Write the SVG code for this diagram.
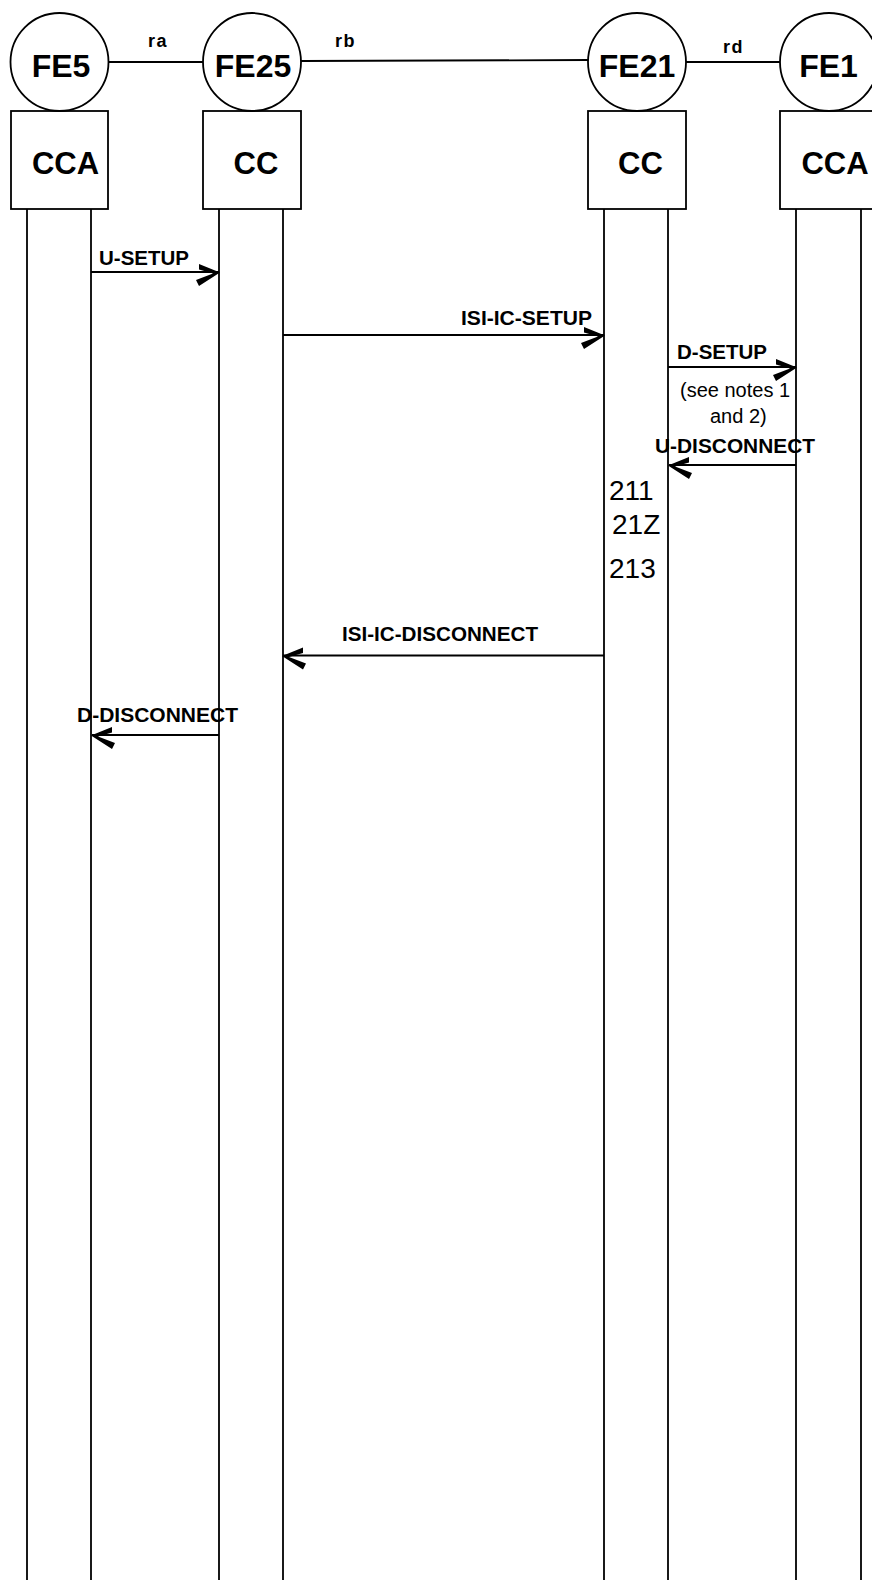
<svg xmlns="http://www.w3.org/2000/svg" width="872" height="1580" viewBox="0 0 872 1580">
<style>
.ln{stroke:#000;stroke-width:1.8;fill:none}
.shape{stroke:#000;stroke-width:1.8;fill:#fff}
.fe{font-family:"Liberation Sans",Arial,sans-serif;font-weight:bold;font-size:32px;text-anchor:middle}
.fn{font-family:"Liberation Sans",Arial,sans-serif;font-weight:bold;font-size:31px;text-anchor:middle}
.ref{font-family:"Liberation Sans",Arial,sans-serif;font-weight:bold;font-size:18px;letter-spacing:1.5px}
.msg{font-family:"Liberation Sans",Arial,sans-serif;font-weight:bold;font-size:20px}
.note{font-family:"Liberation Sans",Arial,sans-serif;font-size:20px}
.num{font-family:"Liberation Sans",Arial,sans-serif;font-size:28px}
</style>
<defs>
<marker id="arrR" markerUnits="userSpaceOnUse" orient="0" viewBox="-26 -12 30 30" markerWidth="30" markerHeight="30" refX="0" refY="0" overflow="visible">
<path d="M-20,-8 L1,0.5 L-20,14 L-23,8 L-6,1.5 L-20,-2.5 Z" fill="#000"/>
</marker>
<marker id="arrL" markerUnits="userSpaceOnUse" orient="0" viewBox="-4 -12 30 30" markerWidth="30" markerHeight="30" refX="0" refY="0" overflow="visible">
<path d="M20,-8 L-1,0.5 L20,14 L23,8 L6,1.5 L20,-2.5 Z" fill="#000"/>
</marker>
</defs>
<rect width="872" height="1580" fill="#fff"/>
<g id="links">
<line class="ln" x1="108" y1="62" x2="203" y2="62"/>
<line class="ln" x1="301" y1="61" x2="588" y2="60"/>
<line class="ln" x1="686" y1="62" x2="780" y2="62"/>
<text class="ref" x="148" y="47">ra</text>
<text class="ref" x="335" y="47">rb</text>
<text class="ref" x="723" y="53">rd</text>
</g>
<g id="lifelines">
<line class="ln" x1="27" y1="209" x2="27" y2="1580"/>
<line class="ln" x1="91" y1="209" x2="91" y2="1580"/>
<line class="ln" x1="219" y1="209" x2="219" y2="1580"/>
<line class="ln" x1="283" y1="209" x2="283" y2="1580"/>
<line class="ln" x1="604" y1="209" x2="604" y2="1580"/>
<line class="ln" x1="668" y1="209" x2="668" y2="1580"/>
<line class="ln" x1="796" y1="209" x2="796" y2="1580"/>
<line class="ln" x1="861" y1="209" x2="861" y2="1580"/>
</g>
<g id="FE5">
<rect class="shape" x="11" y="111" width="97" height="98"/>
<circle class="shape" cx="59.5" cy="62" r="49"/>
<text class="fe" x="61" y="77">FE5</text>
<text class="fn" x="65.5" y="174">CCA</text>
</g>
<g id="FE25">
<rect class="shape" x="203" y="111" width="98" height="98"/>
<circle class="shape" cx="252" cy="62" r="49"/>
<text class="fe" x="253" y="77">FE25</text>
<text class="fn" x="256" y="174">CC</text>
</g>
<g id="FE21">
<rect class="shape" x="588" y="111" width="98" height="98"/>
<circle class="shape" cx="637" cy="62" r="49"/>
<text class="fe" x="637" y="77">FE21</text>
<text class="fn" x="640.5" y="174">CC</text>
</g>
<g id="FE1">
<rect class="shape" x="780" y="111" width="98" height="98"/>
<circle class="shape" cx="829" cy="62" r="49"/>
<text class="fe" x="828.5" y="77">FE1</text>
<text class="fn" x="835" y="174">CCA</text>
</g>
<g id="connectors">
<line class="ln" x1="91" y1="272" x2="219" y2="272" marker-end="url(#arrR)"/>
<text class="msg" x="99" y="265" textLength="90" lengthAdjust="spacingAndGlyphs">U-SETUP</text>
<line class="ln" x1="283" y1="335" x2="604" y2="335" marker-end="url(#arrR)"/>
<text class="msg" x="461" y="325" textLength="131" lengthAdjust="spacingAndGlyphs">ISI-IC-SETUP</text>
<line class="ln" x1="668" y1="367" x2="796" y2="367" marker-end="url(#arrR)"/>
<text class="msg" x="677" y="359" textLength="90" lengthAdjust="spacingAndGlyphs">D-SETUP</text>
<text class="note" x="680" y="397">(see notes 1</text>
<text class="note" x="710" y="423">and 2)</text>
<line class="ln" x1="796" y1="465" x2="669" y2="465" marker-end="url(#arrL)"/>
<text class="msg" x="655" y="453" textLength="160" lengthAdjust="spacingAndGlyphs">U-DISCONNECT</text>
<text class="num" x="609" y="500">211</text>
<text class="num" x="612" y="534">21Z</text>
<text class="num" x="609" y="578">213</text>
<line class="ln" x1="604" y1="655.5" x2="283" y2="655.5" marker-end="url(#arrL)"/>
<text class="msg" x="342" y="641" textLength="196" lengthAdjust="spacingAndGlyphs">ISI-IC-DISCONNECT</text>
<line class="ln" x1="219" y1="735" x2="92" y2="735" marker-end="url(#arrL)"/>
<text class="msg" x="77" y="722" textLength="161" lengthAdjust="spacingAndGlyphs">D-DISCONNECT</text>
</g>
</svg>
